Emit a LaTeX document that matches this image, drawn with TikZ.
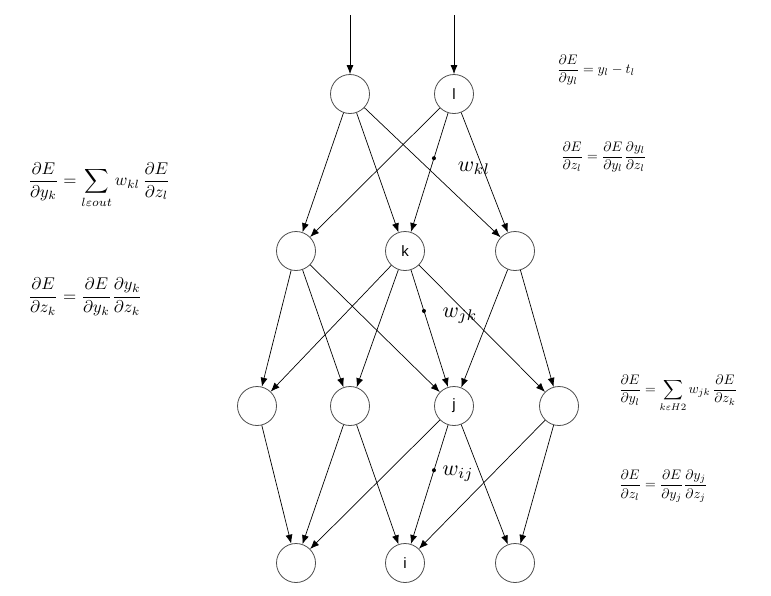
\documentclass[tikz,border=0pt]{standalone}
\usepackage{amsmath}
\usepackage{fontspec}
\newfontfamily\sansf{Liberation Sans}
\usetikzlibrary{arrows.meta}
\begin{document}
\begin{tikzpicture}[x=1pt,y=-1pt,
  neu/.style={circle,draw=black!70,line width=0.8pt,minimum size=39pt,inner sep=0pt,font=\sansf\fontsize{15}{15}\selectfont},
  con/.style={-{Latex[length=9pt,width=7pt]},line width=0.7pt},
  dotm/.style={circle,fill=black,inner sep=0pt,minimum size=4pt},
  big/.style={scale=1.7},
  small/.style={scale=1.38},
  wl/.style={scale=2.2}]
\useasboundingbox (0,0) rectangle (771,595);
\node[neu] (a1) at (350,94) {};
\node[neu] (a2) at (454,94) {l};
\node[neu] (b1) at (296,251) {};
\node[neu] (b2) at (405,251) {k};
\node[neu] (b3) at (515,251) {};
\node[neu] (c1) at (257,406) {};
\node[neu] (c2) at (350,406) {};
\node[neu] (c3) at (454,406) {j};
\node[neu] (c4) at (559,406) {};
\node[neu] (d1) at (296,563) {};
\node[neu] (d2) at (405,563) {i};
\node[neu] (d3) at (515,563) {};
\coordinate (t1) at (350,15);
\coordinate (t2) at (454,15);
\draw[con] (t1) -- (a1);
\draw[con] (t2) -- (a2);
\foreach \s/\t in {a1/b1,a1/b2,a1/b3,a2/b1,a2/b2,a2/b3,
  b1/c1,b1/c2,b1/c3,b2/c1,b2/c2,b2/c3,b2/c4,b3/c3,b3/c4,
  c1/d1,c2/d1,c2/d2,c3/d1,c3/d2,c3/d3,c4/d2,c4/d3}
  \draw[con] (\s) -- (\t);
\path (a2) -- node[pos=0.38,dotm] (m1) {} (b2);
\path (b2) -- node[pos=0.35,dotm] (m2) {} (c3);
\path (c3) -- node[pos=0.38,dotm] (m3) {} (d2);
\node[wl] (w1) at (474,168) {$w_{kl}$};
\node[wl] (w2) at (460,316) {$w_{jk}$};
\node[wl] (w3) at (458,474) {$w_{ij}$};
\node[big,anchor=west] (f1) at (22,185) {$\dfrac{\partial E}{\partial y_k}=\displaystyle\sum_{l\varepsilon out} w_{kl}\,\dfrac{\partial E}{\partial z_l}$};
\node[big,anchor=west] (f2) at (22,297) {$\dfrac{\partial E}{\partial z_k}=\dfrac{\partial E}{\partial y_k}\dfrac{\partial y_k}{\partial z_k}$};
\node[small,anchor=west] (f3) at (552,70) {$\dfrac{\partial E}{\partial y_l}=y_l-t_l$};
\node[small,anchor=west] (f4) at (556,157) {$\dfrac{\partial E}{\partial z_l}=\dfrac{\partial E}{\partial y_l}\dfrac{\partial y_l}{\partial z_l}$};
\node[small,anchor=west] (f5) at (614,393) {$\dfrac{\partial E}{\partial y_l}=\displaystyle\sum_{k\varepsilon H2} w_{jk}\,\dfrac{\partial E}{\partial z_k}$};
\node[small,anchor=west] (f6) at (614,486) {$\dfrac{\partial E}{\partial z_l}=\dfrac{\partial E}{\partial y_j}\dfrac{\partial y_j}{\partial z_j}$};
\end{tikzpicture}
\end{document}
